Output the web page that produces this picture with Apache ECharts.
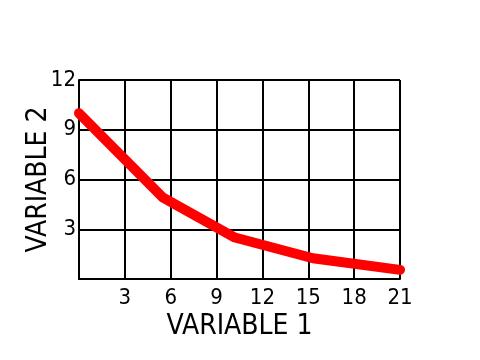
<!DOCTYPE html>
<html><head><meta charset="utf-8">
<script src="https://cdn.jsdelivr.net/npm/echarts@6/dist/echarts.min.js"></script>
<style>html,body{margin:0;padding:0;background:#fff}#c{width:480px;height:360px}</style>
</head><body><div id="c"></div>
<script>
const xValues = [0, 5.5, 10.2, 15.3, 21];
const yValues = [10, 4.9, 2.5, 1.25, 0.55];
const xTicks = [3, 6, 9, 12, 15, 18, 21];
const yTicks = [3, 6, 9, 12];
const xName = 'VARIABLE 1';
const yName = 'VARIABLE 2';

const FONT = '"Liberation Sans Narrow","DejaVu Sans Condensed","DejaVu Sans Mono",sans-serif';
const chart = echarts.init(document.getElementById('c'));
chart.setOption({
  animation: false,
  grid: {left: 79, right: 80, top: 80, bottom: 81, containLabel: false},
  xAxis: {
    type: 'value', min: 0, max: 21, interval: 3,
    name: xName, nameLocation: 'middle', nameGap: 34, nameMoveOverlap: false,
    nameTextStyle: {fontFamily: FONT, fontSize: 28, color: '#000'},
    axisLine: {show: true, lineStyle: {color: '#000', width: 2}},
    axisTick: {show: false},
    axisLabel: {fontFamily: FONT, fontSize: 22, color: '#000', margin: 8,
      formatter: v => xTicks.includes(v) ? String(v) : ''},
    splitLine: {show: true, lineStyle: {color: '#000', width: 2}}
  },
  yAxis: {
    type: 'value', min: 0, max: 12, interval: 3,
    name: yName, nameLocation: 'middle', nameGap: 26, nameRotate: 90, nameMoveOverlap: false,
    nameTextStyle: {fontFamily: FONT, fontSize: 28, color: '#000'},
    axisLine: {show: true, lineStyle: {color: '#000', width: 2}},
    axisTick: {show: false},
    axisLabel: {fontFamily: FONT, fontSize: 22, color: '#000', margin: 3,
      formatter: v => yTicks.includes(v) ? String(v) : ''},
    splitLine: {show: true, lineStyle: {color: '#000', width: 2}}
  },
  series: [{
    type: 'line',
    data: xValues.map((x, i) => [x, yValues[i]]),
    showSymbol: false, symbol: 'none', smooth: false,
    lineStyle: {color: '#ff0000', width: 10, cap: 'round', join: 'round'}
  }]
});
</script></body></html>
